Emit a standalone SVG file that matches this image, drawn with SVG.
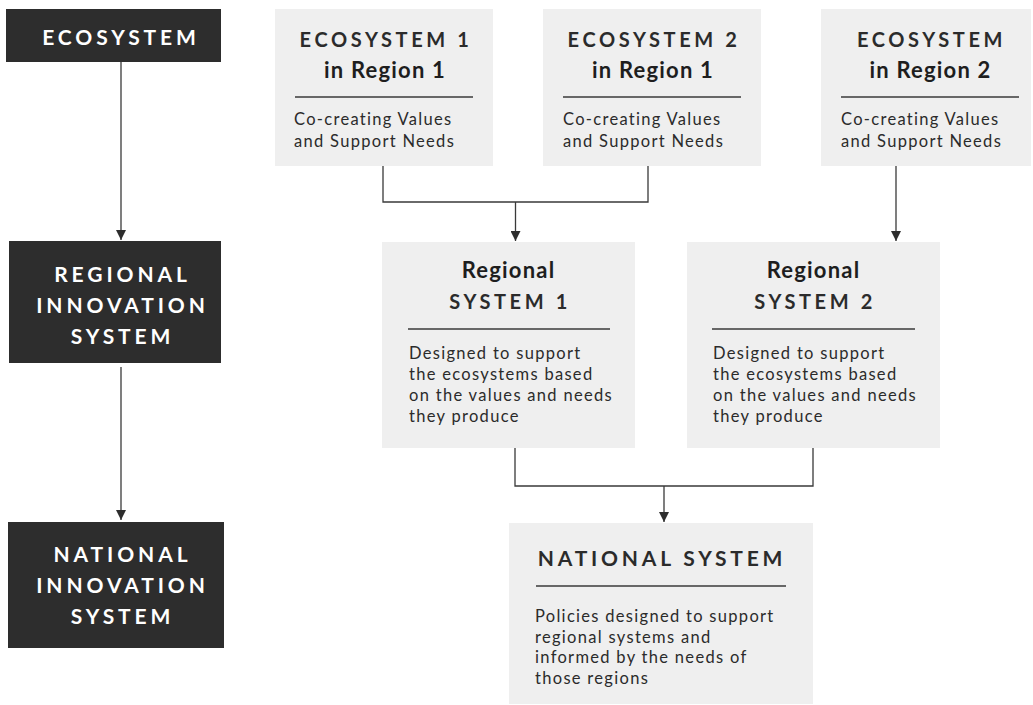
<svg xmlns="http://www.w3.org/2000/svg" width="1033" height="705" viewBox="0 0 1033 705">
<style>
.dark{fill:#2d2d2d}
.light{fill:#efefef}
.dt{font-family:Lato,"Open Sans",sans-serif;font-weight:700;font-size:21px;letter-spacing:3.9px;fill:#ffffff;text-anchor:middle}
.tt{font-family:Lato,"Open Sans",sans-serif;font-weight:700;font-size:20px;letter-spacing:3.6px;fill:#2b2b2b;text-anchor:middle}
.ts{font-family:Lato,"Open Sans",sans-serif;font-weight:700;font-size:22px;letter-spacing:1.2px;fill:#1e1e1e;text-anchor:middle}
.bt{font-family:Lato,"Open Sans",sans-serif;font-size:16.5px;letter-spacing:1.3px;fill:#2b2b2b}
.rule{stroke:#3a3a3a;stroke-width:1.3}
.con{stroke:#3a3a3a;stroke-width:1.3;fill:none}
</style>
<defs>
<marker id="ah" viewBox="0 0 10 10" refX="10" refY="5" markerWidth="10" markerHeight="10" markerUnits="userSpaceOnUse" orient="auto">
<path d="M0,0 L10,5 L0,10 z" fill="#2d2d2d"/>
</marker>
</defs>
<rect width="1033" height="705" fill="#ffffff"/>

<g id="connectors">
<line class="con" x1="121" y1="62" x2="121" y2="240" marker-end="url(#ah)"/>
<line class="con" x1="121" y1="367" x2="121" y2="520" marker-end="url(#ah)"/>
<polyline class="con" points="383,166 383,202 648,202 648,166"/>
<line class="con" x1="515.5" y1="202" x2="515.5" y2="241" marker-end="url(#ah)"/>
<line class="con" x1="896" y1="166" x2="896" y2="241" marker-end="url(#ah)"/>
<polyline class="con" points="515,448 515,486 813,486 813,448"/>
<line class="con" x1="664" y1="486" x2="664" y2="522" marker-end="url(#ah)"/>
</g>

<g id="ecosystem">
<rect class="dark" x="6" y="9" width="215" height="53"/>
<text class="dt" x="121" y="45">ECOSYSTEM</text>
</g>

<g id="regional-innovation-system">
<rect class="dark" x="9" y="241" width="212" height="122"/>
<text class="dt" x="122.5" y="282">REGIONAL</text>
<text class="dt" x="122.5" y="313">INNOVATION</text>
<text class="dt" x="122.5" y="344">SYSTEM</text>
</g>

<g id="national-innovation-system">
<rect class="dark" x="8" y="522" width="216" height="126"/>
<text class="dt" x="122.5" y="562">NATIONAL</text>
<text class="dt" x="122.5" y="593">INNOVATION</text>
<text class="dt" x="122.5" y="624">SYSTEM</text>
</g>

<g id="ecosystem1-region1">
<rect class="light" x="275" y="9" width="218" height="157"/>
<text class="tt" x="386" y="47">ECOSYSTEM 1</text>
<text class="ts" x="385" y="78">in Region 1</text>
<line class="rule" x1="295" y1="97" x2="473" y2="97"/>
<text class="bt" x="294" y="125">Co-creating Values</text>
<text class="bt" x="294" y="147">and Support Needs</text>
</g>

<g id="ecosystem2-region1">
<rect class="light" x="543" y="9" width="218" height="157"/>
<text class="tt" x="654" y="47">ECOSYSTEM 2</text>
<text class="ts" x="653" y="78">in Region 1</text>
<line class="rule" x1="563" y1="97" x2="741" y2="97"/>
<text class="bt" x="563" y="125">Co-creating Values</text>
<text class="bt" x="563" y="147">and Support Needs</text>
</g>

<g id="ecosystem-region2">
<rect class="light" x="821" y="9" width="210" height="157"/>
<text class="tt" x="931.5" y="47">ECOSYSTEM</text>
<text class="ts" x="930.5" y="78">in Region 2</text>
<line class="rule" x1="841" y1="97" x2="1019" y2="97"/>
<text class="bt" x="841" y="125">Co-creating Values</text>
<text class="bt" x="841" y="147">and Support Needs</text>
</g>

<g id="regional-system1">
<rect class="light" x="382" y="242" width="253" height="206"/>
<text class="ts" x="508.5" y="278">Regional</text>
<text class="tt" x="510" y="309">SYSTEM 1</text>
<line class="rule" x1="408" y1="329" x2="610" y2="329"/>
<text class="bt" x="409" y="359">Designed to support</text>
<text class="bt" x="409" y="380">the ecosystems based</text>
<text class="bt" x="409" y="401">on the values and needs</text>
<text class="bt" x="409" y="422">they produce</text>
</g>

<g id="regional-system2">
<rect class="light" x="687" y="242" width="253" height="206"/>
<text class="ts" x="813.5" y="278">Regional</text>
<text class="tt" x="815" y="309">SYSTEM 2</text>
<line class="rule" x1="712" y1="329" x2="915" y2="329"/>
<text class="bt" x="713" y="359">Designed to support</text>
<text class="bt" x="713" y="380">the ecosystems based</text>
<text class="bt" x="713" y="401">on the values and needs</text>
<text class="bt" x="713" y="422">they produce</text>
</g>

<g id="national-system">
<rect class="light" x="509" y="523" width="304" height="181"/>
<text class="tt" x="662" y="566" style="font-size:21px;letter-spacing:3.8px">NATIONAL SYSTEM</text>
<line class="rule" x1="536" y1="586" x2="786" y2="586"/>
<text class="bt" x="535" y="622">Policies designed to support</text>
<text class="bt" x="535" y="643">regional systems and</text>
<text class="bt" x="535" y="663">informed by the needs of</text>
<text class="bt" x="535" y="684">those regions</text>
</g>
</svg>
